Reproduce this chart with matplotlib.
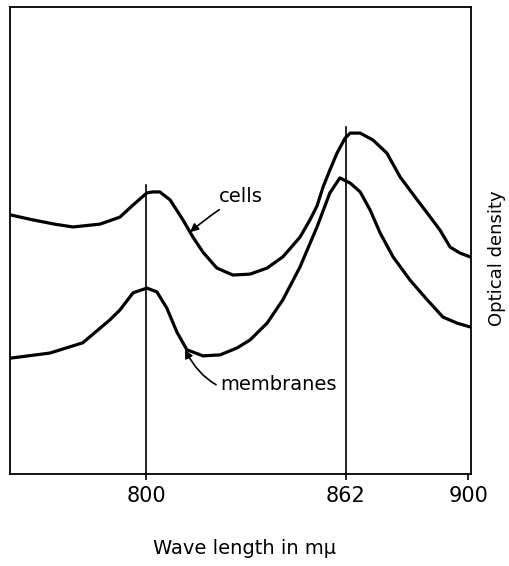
import numpy as np
import matplotlib.pyplot as plt

# wavelength (m\u03bc) and optical density (arbitrary units)
cells_wl = [757.8, 765, 771.7, 777.3, 785.7, 791.9, 796.0, 800.3, 802.2, 804.3, 807.5,
            811.5, 814.6, 817.7, 822.0, 827.0, 832.3, 837.6, 842.5, 847.8, 850.9, 853.1,
            855.0, 857.1, 859.3, 861.8, 863.4, 866.5, 870.5, 874.8, 878.9, 884.2, 887.3,
            891.3, 894.4, 897.5, 900.6]
cells_od = [0.555, 0.544, 0.535, 0.529, 0.535, 0.550, 0.576, 0.602, 0.604, 0.604, 0.587,
            0.544, 0.507, 0.475, 0.441, 0.426, 0.428, 0.441, 0.465, 0.507, 0.544, 0.574,
            0.615, 0.651, 0.687, 0.719, 0.730, 0.730, 0.715, 0.687, 0.636, 0.587, 0.559,
            0.522, 0.486, 0.473, 0.465]

memb_wl = [757.8, 770.2, 780.4, 788.8, 791.9, 796.0, 800.3, 803.4, 806.5, 809.6, 812.7,
           817.7, 823.0, 828.3, 832.3, 837.6, 842.5, 847.8, 853.1, 857.1, 860.2, 863.4,
           866.5, 869.6, 872.7, 876.7, 882.0, 887.3, 892.2, 896.6, 900.6]
memb_od = [0.248, 0.259, 0.281, 0.330, 0.351, 0.388, 0.398, 0.390, 0.355, 0.304, 0.266,
           0.253, 0.255, 0.270, 0.287, 0.323, 0.373, 0.443, 0.529, 0.602, 0.634, 0.623,
           0.604, 0.565, 0.516, 0.465, 0.415, 0.373, 0.336, 0.323, 0.315]

peaks = [800, 862]
peak_tops = [0.619, 0.743]
tick_pos = [800, 862, 900]
tick_labels = ['800', '862', '900']

fig = plt.figure(figsize=(5.1, 5.66), dpi=100)
ax = fig.add_axes([10/510, 92/566, 461/510, 467/566])

ax.plot(cells_wl, cells_od, color='black', lw=2.3, solid_joinstyle='round', solid_capstyle='round')
ax.plot(memb_wl, memb_od, color='black', lw=2.3, solid_joinstyle='round', solid_capstyle='round')

for p, top in zip(peaks, peak_tops):
    ax.plot([p, p], [0, top], color='black', lw=1.2)

ax.set_xlim(757.8, 900.9)
ax.set_ylim(0, 1)
for s in ax.spines.values():
    s.set_linewidth(1.3)
ax.set_yticks([])
ax.set_xticks(tick_pos)
ax.set_xticklabels(tick_labels, fontsize=15)
ax.tick_params(axis='x', direction='out', length=4, width=1.2, pad=5)

ax.annotate('cells', xy=(813.7, 0.518), xytext=(822.5, 0.594), fontsize=14,
            ha='left', va='center',
            arrowprops=dict(arrowstyle='-|>', color='black', lw=1.2,
                            connectionstyle='arc3,rad=0.05', shrinkA=1, shrinkB=0,
                            mutation_scale=12))
ax.annotate('membranes', xy=(812.1, 0.266), xytext=(823, 0.191), fontsize=14,
            ha='left', va='center',
            arrowprops=dict(arrowstyle='-|>', color='black', lw=1.2,
                            connectionstyle='arc3,rad=-0.45', shrinkA=1, shrinkB=0,
                            mutation_scale=12))

fig.text(245/510, 1 - 548/566, 'Wave length in m\u03bc', fontsize=14, ha='center', va='center')
fig.text(497/510, 1 - 258/566, 'Optical density', fontsize=13, rotation=90,
         ha='center', va='center')

fig.savefig('out.png', dpi=100)
